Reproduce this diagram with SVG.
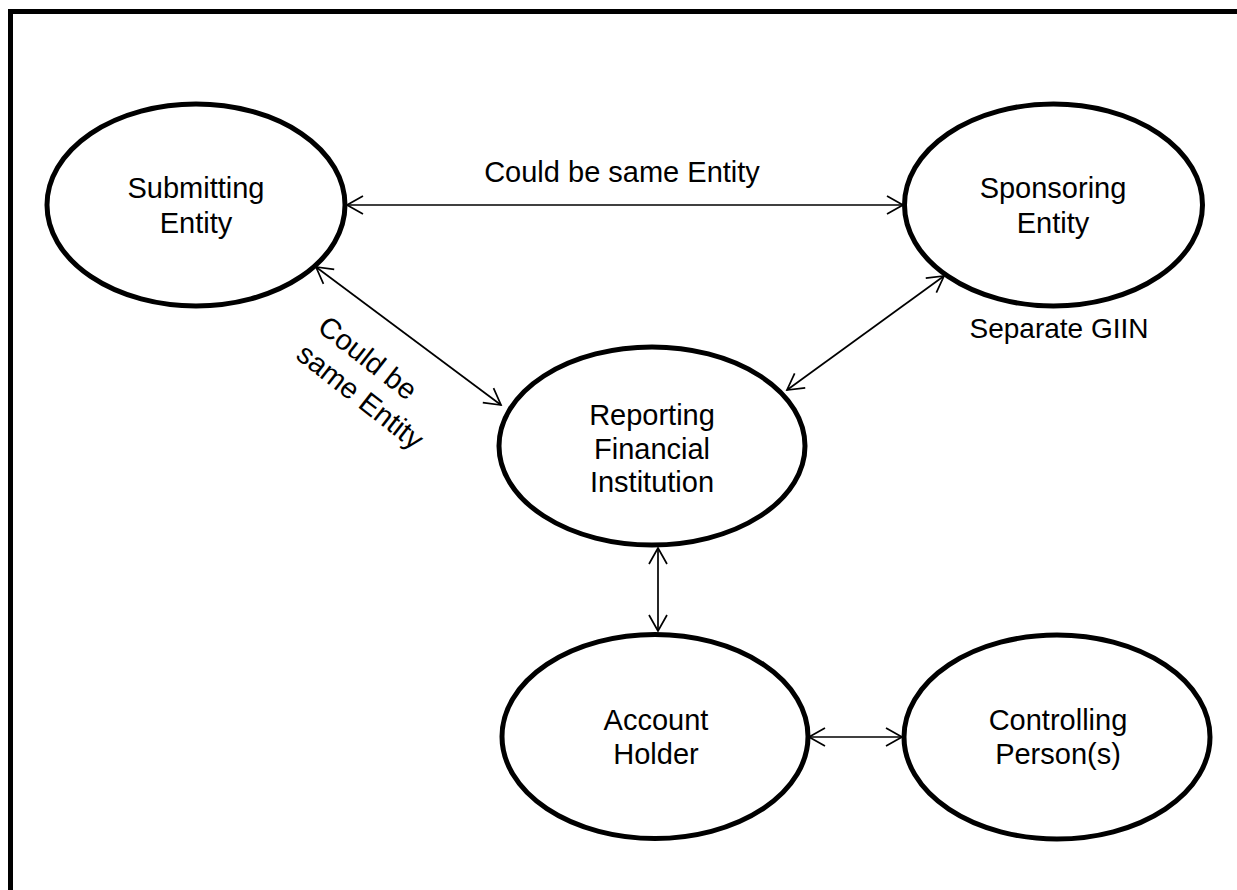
<svg xmlns="http://www.w3.org/2000/svg" width="1237" height="890" viewBox="0 0 1237 890">
<style>
.node{fill:#fff;stroke:#000;stroke-width:5}
.lbl{font-family:"Liberation Sans",Arial,sans-serif;font-size:29px;fill:#000;text-anchor:middle}
.conn{stroke:#000;stroke-width:1.7;fill:none;marker-start:url(#ah);marker-end:url(#ah)}
</style>
<defs>
<marker id="ah" markerUnits="userSpaceOnUse" markerWidth="24" markerHeight="24" viewBox="-20 -12 24 24" refX="0" refY="0" orient="auto-start-reverse">
<path d="M-16,-9 L0,0 L-16,9" fill="none" stroke="#000" stroke-width="1.7"/>
</marker>
</defs>
<rect x="10.5" y="11.5" width="1400" height="1000" fill="#fff" stroke="#000" stroke-width="5"/>
<g id="connectors">
<line class="conn" x1="347" y1="205" x2="903" y2="205"/>
<line class="conn" x1="316" y1="267" x2="501" y2="405"/>
<line class="conn" x1="944" y1="276" x2="787" y2="390"/>
<line class="conn" x1="658" y1="548" x2="658" y2="631"/>
<line class="conn" x1="809" y1="737" x2="902" y2="737"/>
</g>
<g id="submitting">
<ellipse class="node" cx="196" cy="205" rx="149" ry="101"/>
<text class="lbl" x="196" y="198">Submitting</text>
<text class="lbl" x="196" y="233">Entity</text>
</g>
<g id="sponsoring">
<ellipse class="node" cx="1053.5" cy="205" rx="149" ry="101"/>
<text class="lbl" x="1053" y="198">Sponsoring</text>
<text class="lbl" x="1053" y="233">Entity</text>
</g>
<g id="reporting">
<ellipse class="node" cx="652" cy="446" rx="153" ry="99"/>
<text class="lbl" x="652" y="425">Reporting</text>
<text class="lbl" x="652" y="458.5">Financial</text>
<text class="lbl" x="652" y="492">Institution</text>
</g>
<g id="account">
<ellipse class="node" cx="655" cy="736.5" rx="153" ry="102"/>
<text class="lbl" x="656" y="730">Account</text>
<text class="lbl" x="656" y="764">Holder</text>
</g>
<g id="controlling">
<ellipse class="node" cx="1057" cy="737" rx="153" ry="102"/>
<text class="lbl" x="1058" y="730">Controlling</text>
<text class="lbl" x="1058" y="764">Person(s)</text>
</g>
<g id="labels">
<text class="lbl" x="622" y="182">Could be same Entity</text>
<text class="lbl" style="font-size:28px" x="1059" y="338">Separate GIIN</text>
<g transform="translate(316,330) rotate(38)">
<text class="lbl" style="text-anchor:start" x="0" y="0">Could be</text>
<text class="lbl" style="text-anchor:start" x="0" y="35">same Entity</text>
</g>
</g>
</svg>
